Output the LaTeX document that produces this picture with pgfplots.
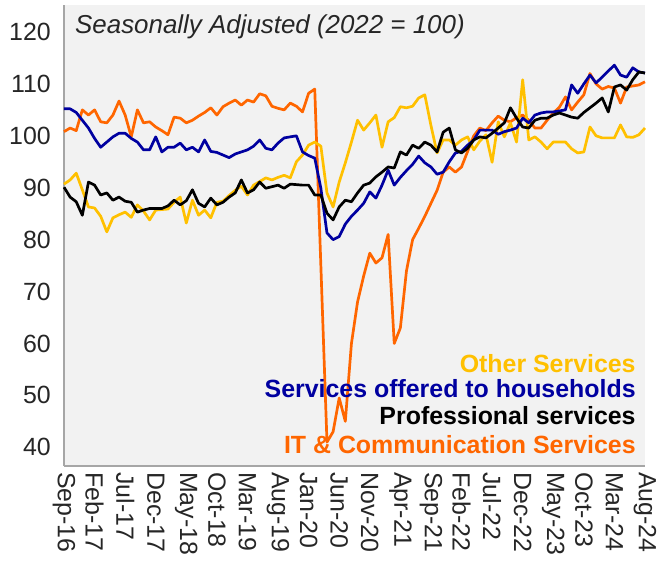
\documentclass[border=0pt]{standalone}
\usepackage{fontspec}
\setmainfont{Liberation Sans}
\usepackage{pgfplots}
\usepackage{pgfplotstable}
\pgfplotsset{compat=1.18}
\definecolor{cOth}{HTML}{FFC000}
\definecolor{cHH}{HTML}{0000A0}
\definecolor{cIT}{HTML}{FF6600}
\definecolor{axgrey}{HTML}{A6A6A6}
\definecolor{bg}{HTML}{F2F2F2}
\definecolor{txt}{HTML}{262626}
\pgfplotstableread{
i it hh pro oth
0 100.8 105.2 90.1 90.7
1 101.5 105.2 88.2 91.5
2 101.0 104.5 87.3 92.8
3 105.0 103.0 84.7 89.6
4 104.0 101.5 91.1 86.3
5 105.0 99.5 90.5 86.1
6 102.7 97.8 88.6 84.5
7 102.5 98.8 89.0 81.5
8 104.0 99.8 87.6 84.2
9 106.7 100.5 88.2 84.8
10 104.0 100.5 87.4 85.3
11 99.8 99.5 87.2 84.3
12 105.0 98.8 85.3 86.7
13 102.5 97.3 85.7 85.5
14 102.7 97.3 86.0 83.8
15 101.7 99.8 86.0 85.7
16 101.0 96.9 86.0 85.8
17 100.2 97.8 86.5 85.9
18 103.6 97.8 87.6 87.2
19 103.4 98.6 86.7 88.2
20 102.5 97.3 87.5 83.2
21 103.0 97.8 89.6 87.6
22 103.8 96.9 87.0 84.7
23 104.5 99.2 86.3 85.7
24 105.4 97.0 88.0 84.2
25 104.0 96.8 86.7 87.2
26 105.6 96.3 87.2 87.4
27 106.3 95.8 88.2 88.5
28 106.9 96.5 89.0 89.5
29 105.9 96.9 91.5 90.3
30 106.9 97.3 89.0 88.6
31 106.5 98.0 89.6 90.5
32 108.1 99.2 91.1 91.2
33 107.7 97.6 89.9 91.9
34 105.7 97.3 90.2 91.5
35 105.3 98.6 90.5 92.0
36 105.0 99.6 89.9 92.4
37 106.3 99.8 90.7 91.9
38 105.7 100.0 90.6 95.0
39 104.6 96.9 90.5 96.3
40 108.2 96.2 90.5 98.2
41 109.0 95.7 88.6 98.8
42 75.0 89.9 88.6 98.0
43 41.0 81.3 85.1 89.0
44 43.0 80.0 83.8 86.3
45 49.5 80.6 86.3 91.1
46 45.0 83.0 87.6 94.8
47 60.0 84.5 87.3 98.8
48 68.0 85.7 89.0 103.0
49 73.0 87.0 90.5 101.1
50 77.4 89.2 90.9 102.5
51 75.5 88.0 92.1 104.0
52 76.5 90.5 93.0 97.8
53 81.0 93.4 94.0 102.7
54 60.0 90.5 93.8 103.5
55 63.0 92.0 96.9 105.6
56 74.0 93.3 96.3 105.4
57 80.0 94.5 98.2 105.7
58 82.2 96.1 97.6 107.3
59 84.5 94.8 98.8 107.9
60 87.0 94.0 98.2 102.0
61 89.5 92.6 96.9 96.7
62 93.0 93.0 100.7 99.2
63 94.0 95.0 101.5 99.2
64 93.0 96.7 97.3 98.2
65 94.0 97.0 96.7 99.2
66 97.0 98.2 97.6 99.8
67 100.0 99.2 99.2 97.3
68 101.5 101.1 99.8 99.0
69 101.0 101.1 99.6 100.2
70 102.5 101.1 100.5 94.9
71 103.8 100.3 101.5 102.7
72 103.0 100.8 102.5 99.8
73 102.7 101.1 105.4 102.5
74 103.5 101.5 103.4 98.8
75 104.0 103.4 101.7 110.8
76 103.0 102.5 101.5 99.2
77 101.5 104.0 103.0 99.8
78 101.5 104.4 103.4 98.8
79 103.0 104.6 103.4 97.5
80 104.4 104.6 104.0 98.8
81 105.5 104.8 104.4 98.8
82 107.5 105.0 104.0 98.8
83 105.0 109.8 103.6 97.5
84 106.5 108.2 103.4 96.7
85 107.9 110.0 104.5 96.9
86 112.0 111.7 105.4 101.7
87 110.0 110.2 106.3 100.0
88 109.0 111.3 107.3 99.6
89 109.5 112.5 104.6 99.6
90 109.2 113.6 109.4 99.6
91 106.3 111.7 109.8 102.1
92 109.4 111.3 108.8 99.8
93 109.6 113.1 110.8 99.7
94 109.8 112.3 112.3 100.2
95 110.4 112.1 112.1 101.5
}\datatable
\begin{document}
\begin{tikzpicture}
\path[use as bounding box] (-64bp,-96bp) rectangle (596bp,466bp);
\begin{axis}[
  at={(0,0)}, anchor=south west,
  scale only axis, width=581bp, height=461bp,
  xmin=0, xmax=95, ymin=36.4, ymax=125.2,
  ytick={40,50,...,120},
  xtick={0,5,...,95},
  xticklabels={Sep-16,Feb-17,Jul-17,Dec-17,May-18,Oct-18,Mar-19,Aug-19,Jan-20,Jun-20,Nov-20,Apr-21,Sep-21,Feb-22,Jul-22,Dec-22,May-23,Oct-23,Mar-24,Aug-24},
  axis x line*=bottom, axis y line*=left,
  axis line style={draw=axgrey, line width=1.3bp, -},
  axis background/.style={fill=bg},
  major tick length=0pt,
  tick label style={font=\fontsize{25}{29}\selectfont, text=txt},
  /pgf/number format/assume math mode=true,
  xticklabel style={rotate=-90, anchor=west, inner sep=0bp, xshift=6bp},
  yticklabel style={inner sep=0bp, xshift=-13bp},
  clip=false,
]
\addplot[cIT, line width=2.7bp, line join=round] table[x=i, y=it] {\datatable};
\addplot[cOth, line width=2.7bp, line join=round] table[x=i, y=oth] {\datatable};
\addplot[cHH, line width=2.7bp, line join=round] table[x=i, y=hh] {\datatable};
\addplot[black, line width=2.7bp, line join=round] table[x=i, y=pro] {\datatable};
\node[anchor=west, inner sep=0, text=txt, font=\itshape\fontsize{26}{30}\selectfont] at (axis cs:1.8,121) {Seasonally Adjusted (2022 = 100)};
\node[anchor=east, inner sep=0, text=cOth, font=\bfseries\fontsize{25}{29}\selectfont] at (axis cs:93.5,56.2) {Other Services};
\node[anchor=east, inner sep=0, text=cHH, font=\bfseries\fontsize{25}{29}\selectfont] at (axis cs:93.5,51.4) {Services offered to households};
\node[anchor=east, inner sep=0, text=black, font=\bfseries\fontsize{25}{29}\selectfont] at (axis cs:93.5,46.2) {Professional services};
\node[anchor=east, inner sep=0, text=cIT, font=\bfseries\fontsize{25}{29}\selectfont] at (axis cs:93.5,40.6) {IT \& Communication Services};
\end{axis}
\end{tikzpicture}
\end{document}
